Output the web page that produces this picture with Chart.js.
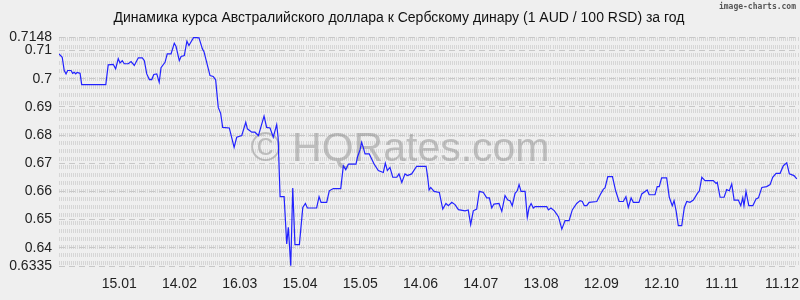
<!DOCTYPE html>
<html>
<head>
<meta charset="utf-8">
<script src="https://cdn.jsdelivr.net/npm/chart.js@4/dist/chart.umd.min.js"></script>
<style>
  html, body { margin: 0; padding: 0; background: #efefef; }
  #wrap { width: 800px; height: 300px; }
</style>
</head>
<body>
<div id="wrap"><canvas id="rateChart" width="800" height="300"></canvas></div>
<script>
// AUD / 100 RSD, day offsets from the start of the period and the rate read at that day
const days = [0, 1.6, 2.6, 3.5, 4.3, 6.0, 6.8, 7.6, 8.3, 9.0, 10.5, 11.3, 23.3, 24.5, 27.0, 28.2, 29.5, 30.4, 31.5, 32.5,
  34.5, 35.9, 37.5, 39.5, 41.5, 42.5, 43.7, 45.0, 46.2, 47.2, 48.7, 49.9, 50.8, 52.8, 53.9, 55.8, 57.4, 58.3, 59.9, 60.8,
  62.4, 63.7, 64.7, 67.1, 69.7, 71.4, 72.2, 75.2, 76.8, 78.0, 79.3, 80.5, 81.5, 84.8, 87.2, 88.5, 91.0, 93.0, 93.8, 96.0,
  97.6, 99.3, 102.1, 103.4, 105.1, 106.7, 108.4, 109.1, 110.1, 112.1, 113.4, 114.2, 115.4, 116.4, 117.5, 119.7, 121.4, 122.7, 123.7, 128.3,
  129.5, 130.5, 133.3, 134.6, 136.6, 140.3, 141.6, 142.8, 144.1, 147.9, 148.6, 149.9, 150.7, 151.5, 152.4, 154.5, 155.7, 156.9, 159.0, 161.5,
  162.5, 163.5, 164.8, 166.2, 168.2, 169.3, 170.7, 172.3, 173.5, 175.6, 178.1, 182.8, 183.6, 184.3, 185.1, 186.8, 189.4, 191.1, 192.7, 193.9,
  195.6, 197.2, 198.9, 202.2, 203.8, 205.0, 206.3, 208.0, 209.3, 211.3, 213.0, 214.3, 215.5, 216.6, 219.1, 220.5, 222.1, 223.5, 224.6, 225.7,
  227.1, 228.2, 229.1, 230.1, 232.1, 233.2, 234.1, 235.1, 236.2, 237.1, 242.9, 243.7, 245.0, 246.7, 248.7, 250.4, 252.0, 254.0, 255.6, 257.8,
  259.5, 260.6, 261.6, 262.8, 264.0, 267.8, 269.9, 271.1, 271.9, 273.3, 275.6, 277.2, 278.9, 281.0, 282.3, 283.5, 284.9, 286.0, 288.8, 290.2,
  292.9, 293.9, 296.8, 297.9, 298.9, 300.1, 302.6, 303.9, 305.4, 306.3, 307.3, 308.4, 310.1, 311.4, 312.6, 314.2, 315.9, 317.9, 318.9, 320.1,
  321.7, 325.8, 327.2, 327.8, 329.2, 331.2, 332.5, 333.8, 335.0, 336.2, 338.3, 339.5, 340.5, 341.1, 342.1, 343.5, 345.5, 347.1, 348.3, 350.0,
  352.4, 354.1, 355.4, 357.1, 359.1, 360.7, 362.4, 363.7, 366.0, 367.4];
const rates = [0.7088, 0.7076, 0.7029, 0.7017, 0.7029, 0.7029, 0.7019, 0.7023, 0.7017, 0.7022, 0.7019, 0.6979, 0.6979, 0.7049, 0.7051, 0.7035, 0.7071, 0.7056, 0.7064, 0.7053,
  0.7053, 0.7061, 0.7047, 0.7074, 0.7074, 0.7064, 0.7017, 0.6997, 0.6997, 0.7015, 0.7017, 0.6987, 0.7039, 0.7058, 0.7088, 0.7088, 0.7126, 0.7114, 0.7064, 0.7079,
  0.7082, 0.7133, 0.7118, 0.7147, 0.7145, 0.7106, 0.7096, 0.7011, 0.7008, 0.6996, 0.6898, 0.6877, 0.6827, 0.6825, 0.6756, 0.6792, 0.6798, 0.6845, 0.6822, 0.6810,
  0.6810, 0.6798, 0.6867, 0.6827, 0.6825, 0.6792, 0.6837, 0.6792, 0.6581, 0.6581, 0.6413, 0.6472, 0.6336, 0.6612, 0.6411, 0.6411, 0.6543, 0.6557, 0.6541, 0.6541,
  0.6581, 0.6561, 0.6561, 0.6602, 0.6610, 0.6610, 0.6691, 0.6677, 0.6697, 0.6697, 0.6721, 0.6747, 0.6774, 0.6756, 0.6733, 0.6733, 0.6715, 0.6697, 0.6674, 0.6667,
  0.6700, 0.6674, 0.6685, 0.6650, 0.6650, 0.6662, 0.6632, 0.6662, 0.6656, 0.6662, 0.6689, 0.6689, 0.6650, 0.6605, 0.6614, 0.6600, 0.6596, 0.6537, 0.6557, 0.6549,
  0.6561, 0.6553, 0.6535, 0.6531, 0.6534, 0.6482, 0.6531, 0.6537, 0.6600, 0.6596, 0.6577, 0.6577, 0.6541, 0.6555, 0.6557, 0.6529, 0.6585, 0.6569, 0.6567, 0.6549,
  0.6593, 0.6602, 0.6624, 0.6600, 0.6600, 0.6508, 0.6543, 0.6557, 0.6541, 0.6546, 0.6546, 0.6534, 0.6541, 0.6531, 0.6510, 0.6466, 0.6496, 0.6496, 0.6534, 0.6557,
  0.6567, 0.6564, 0.6549, 0.6549, 0.6561, 0.6564, 0.6593, 0.6608, 0.6612, 0.6652, 0.6652, 0.6602, 0.6564, 0.6564, 0.6581, 0.6543, 0.6577, 0.6561, 0.6561, 0.6591,
  0.6605, 0.6588, 0.6588, 0.6617, 0.6617, 0.6648, 0.6648, 0.6579, 0.6549, 0.6567, 0.6531, 0.6478, 0.6478, 0.6543, 0.6564, 0.6561, 0.6569, 0.6593, 0.6602, 0.6650,
  0.6638, 0.6638, 0.6628, 0.6632, 0.6579, 0.6579, 0.6606, 0.6602, 0.6626, 0.6569, 0.6569, 0.6549, 0.6577, 0.6549, 0.6600, 0.6549, 0.6549, 0.6573, 0.6577, 0.6614,
  0.6617, 0.6624, 0.6650, 0.6664, 0.6664, 0.6691, 0.6701, 0.6662, 0.6656, 0.6644];

const dateTickDays = [30, 60, 90, 120, 150, 180, 210, 240, 270, 300, 330, 360];
const dateTickLabels = ['15.01', '14.02', '16.03', '15.04', '15.05', '14.06', '14.07', '13.08', '12.09', '12.10', '11.11', '11.12'];
const rateTicks = [0.6335, 0.64, 0.65, 0.66, 0.67, 0.68, 0.69, 0.70, 0.71, 0.7148];
const lastDay = 368;

const points = days.map((d, i) => ({ x: d, y: rates[i] }));

// background, watermark and the small credit in the corner
const decor = {
    id: 'decor',
    beforeDraw(chart) {
        const ctx = chart.ctx;
        ctx.save();
        ctx.fillStyle = '#efefef';
        ctx.fillRect(0, 0, chart.width, chart.height);
        ctx.restore();
    },
    beforeDatasetsDraw(chart) {
        const ctx = chart.ctx;
        ctx.save();
        ctx.font = '41px "Liberation Sans", Arial, sans-serif';
        ctx.fillStyle = 'rgba(150,150,150,0.55)';
        ctx.textAlign = 'center';
        ctx.textBaseline = 'alphabetic';
        ctx.fillText('\u00a9 HQRates.com', 400, 161);
        ctx.restore();
    },
    afterDraw(chart) {
        const ctx = chart.ctx;
        ctx.save();
        ctx.font = 'bold 8px "DejaVu Sans Mono", monospace';
        ctx.fillStyle = '#555';
        ctx.textAlign = 'right';
        ctx.textBaseline = 'middle';
        ctx.fillText('image-charts.com', 796, 7);
        ctx.restore();
    }
};

Chart.defaults.font.family = '"Liberation Sans", Arial, sans-serif';

new Chart(document.getElementById('rateChart'), {
    type: 'line',
    data: {
        datasets: [{
            data: points,
            borderColor: '#2222ff',
            borderWidth: 1.2,
            pointRadius: 0,
            tension: 0,
            fill: false
        }]
    },
    options: {
        responsive: false,
        animation: false,
        layout: { padding: { left: 0, right: 2, top: 0, bottom: 0 } },
        plugins: {
            legend: { display: false },
            tooltip: { enabled: false },
            title: {
                display: true,
                text: 'Динамика курса Австралийского доллара к Сербскому динару (1 AUD / 100 RSD) за год',
                color: '#111',
                font: { size: 14, weight: 'normal' },
                padding: { top: 9.6, bottom: 10.6 }
            }
        },
        scales: {
            x: {
                type: 'linear',
                min: 0,
                max: lastDay,
                afterBuildTicks: s => {
                    const t = [];
                    for (let d = 0; d <= lastDay; d++) t.push({ value: d });
                    s.ticks = t;
                },
                afterFit: s => { s.height = 34; s.paddingLeft = 0; s.paddingRight = 0; },
                ticks: {
                    autoSkip: false,
                    maxRotation: 0,
                    padding: 10,
                    color: '#222',
                    font: { size: 14 },
                    callback: v => {
                        const i = dateTickDays.indexOf(v);
                        return i >= 0 ? dateTickLabels[i] : '';
                    }
                },
                grid: { color: '#d6d6d6', lineWidth: 1, drawTicks: false },
                border: { display: false, dash: [4, 4] }
            },
            y: {
                min: 0.6335,
                max: 0.7148,
                afterBuildTicks: s => { s.ticks = rateTicks.map(v => ({ value: v })); },
                afterFit: s => { s.width = 59; },
                ticks: {
                    padding: 7,
                    color: '#222',
                    font: { size: 14 },
                    callback: v => String(v)
                },
                grid: { color: '#c8c8c8', lineWidth: 1, drawTicks: false },
                border: { display: false, dash: [6, 4] }
            }
        }
    },
    plugins: [decor]
});
</script>
</body>
</html>
